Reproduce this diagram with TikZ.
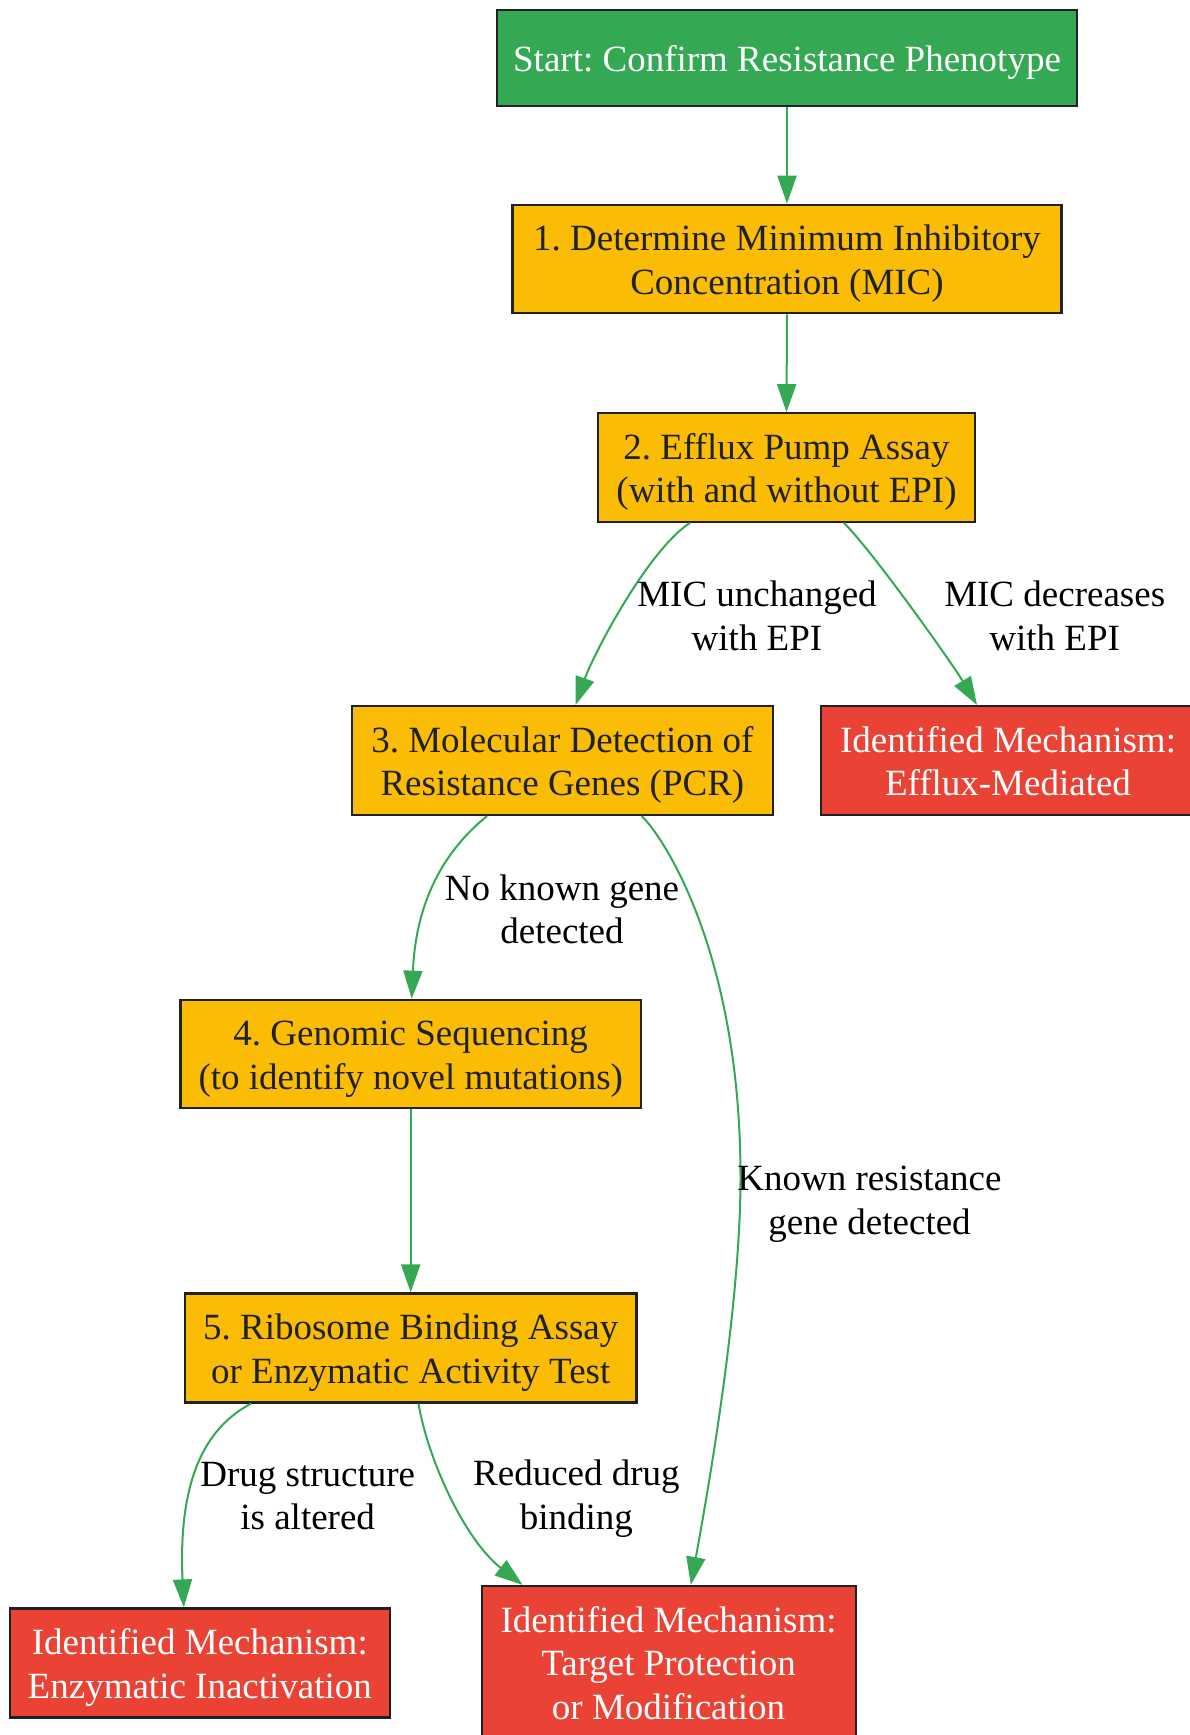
\documentclass[tikz,border=0pt]{standalone}
\usepackage{fontspec}
\setmainfont{Liberation Serif}
\usetikzlibrary{arrows.meta}
\definecolor{gG}{HTML}{34A853}
\definecolor{gY}{HTML}{FBBC05}
\definecolor{gR}{HTML}{EA4335}
\definecolor{gD}{HTML}{202124}
\newcommand{\tsup}{\rule{0pt}{36pt}}
\newcommand{\tsdn}{\rule[-9pt]{0pt}{9pt}}
\frenchspacing
\begin{document}
\begin{tikzpicture}[x=1pt,y=-1pt,
 box/.style={draw=gD, line width=2.2pt, rectangle, align=center, inner sep=0pt, font=\fontsize{37}{43.5}\selectfont\frenchspacing},
 startbox/.style={box, fill=gG, text=white},
 stepbox/.style={box, fill=gY, text=gD},
 endbox/.style={box, fill=gR, text=white},
 conn/.style={draw=gG, line width=2pt, -{Triangle[length=28pt,width=19pt]}},
 lbl/.style={align=center, inner sep=0pt, text=black, font=\fontsize{37}{43.5}\selectfont}
]
\useasboundingbox[fill=white] (0,0) rectangle (1190,1735);

\node[startbox, minimum width=580pt, minimum height=96pt] (start) at (787,58) {\tsup Start: Confirm Resistance Phenotype\tsdn};
\node[stepbox, minimum width=549pt, minimum height=108.5pt] (s1) at (787,259) {\tsup 1. Determine Minimum Inhibitory\\Concentration (MIC)\tsdn};
\node[stepbox, minimum width=377.5pt, minimum height=108.5pt] (s2) at (786.5,467.5) {\tsup 2. Efflux Pump Assay\\(with and without EPI)\tsdn};
\node[stepbox, minimum width=420.7pt, minimum height=109pt] (s3) at (562.4,760.5) {\tsup 3. Molecular Detection of\\Resistance Genes (PCR)\tsdn};
\node[endbox, minimum width=374pt, minimum height=109pt] (eff) at (1008,760.5) {\tsup Identified Mechanism:\\Efflux-Mediated\tsdn};
\node[stepbox, minimum width=460.6pt, minimum height=108.5pt] (s4) at (410.7,1054) {\tsup 4. Genomic Sequencing\\(to identify novel mutations)\tsdn};
\node[stepbox, minimum width=451.6pt, minimum height=109pt] (s5) at (410.7,1348) {\tsup 5. Ribosome Binding Assay\\or Enzymatic Activity Test\tsdn};
\node[endbox, minimum width=380pt, minimum height=109pt] (enz) at (199.8,1663) {\tsup Identified Mechanism:\\Enzymatic Inactivation\tsdn};
\node[endbox, minimum width=374pt, minimum height=152pt] (tgt) at (668.6,1662) {\tsup Identified Mechanism:\\Target Protection\\or Modification\tsdn};

\draw[conn] (start.south) -- (s1.north);
\draw[conn] (s1.south) -- (s2.north);
\draw[conn] ([xshift=-96.5pt]s2.south) .. controls (648,550) and (593.5,654) .. ([xshift=13.2pt]s3.north);
\draw[conn] ([xshift=57.3pt]s2.south) .. controls (870,548) and (950,660) .. ([xshift=-31pt]eff.north);
\draw[conn] ([xshift=-75.4pt]s3.south) .. controls (445,850) and (416,900) .. ([xshift=1pt]s4.north);
\draw[conn] ([xshift=79.3pt]s3.south) .. controls (662,835) and (740,950) .. (740.5,1175) .. controls (741,1300) and (710,1480) .. ([xshift=22.2pt]tgt.north);
\draw[conn] (s4.south) -- (s5.north);
\draw[conn] ([xshift=-159.7pt]s5.south) .. controls (205,1428) and (178,1480) .. ([xshift=-16pt]enz.north);
\draw[conn] ([xshift=7.8pt]s5.south) .. controls (428,1460) and (465,1540) .. ([xshift=-146pt]tgt.north);

\node[lbl] (l1) at (757,616) {MIC unchanged\\with EPI};
\node[lbl] (l2) at (1054.7,616) {MIC decreases\\with EPI};
\node[lbl] (l3) at (562,909.5) {No known gene\\detected};
\node[lbl] (l4) at (869.5,1204) {Known resistance\\gene detected};
\node[lbl] (l5) at (307.7,1496) {Drug structure\\is altered};
\node[lbl] (l6) at (576.4,1498.5) {Reduced drug\\binding};
\end{tikzpicture}
\end{document}
